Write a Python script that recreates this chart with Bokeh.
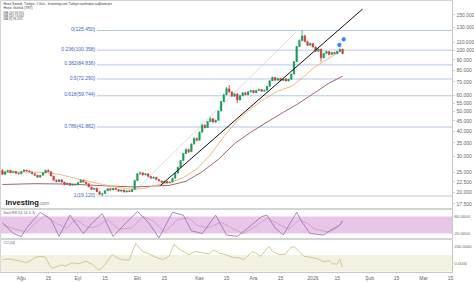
import numpy as np
from bokeh.plotting import figure
from bokeh.layouts import column
from bokeh.models import Range1d, FixedTicker, CustomJSTickFormatter, Label, BoxAnnotation, ColumnDataSource
from bokeh.core.properties import value
from bokeh.embed import file_html
from bokeh.resources import INLINE

FONT = "Liberation Sans"

# ---------------- data (daily candles, trading-day index) ----------------
opens = [25.6, 24.5, 25.2, 25.6, 25.0, 25.3, 24.8,
         24.6, 25.3, 25.7, 25.4, 25.1, 24.6, 24.2, 23.7, 24.2, 24.9, 25.6, 25.2, 24.0, 22.9, 22.5, 23.0, 22.4, 21.8, 22.1, 21.6, 21.9,
         21.7, 22.3, 22.9, 22.4, 22.0, 21.2, 20.6, 20.9, 20.1, 19.5, 19.7, 20.3, 20.8, 20.5, 20.9, 20.6, 20.2, 20.5, 20.0, 20.3, 20.1, 20.6,
         22.8, 24.6, 24.9, 24.3, 24.6, 23.9, 23.4, 23.7, 23.1, 22.7, 22.3, 22.6, 22.2, 22.4, 23.4, 24.8, 26.5, 28.6, 31.0, 32.4, 31.6, 34.5, 36.8,
         36.0, 39.5, 42.8, 41.6, 44.6, 46.0, 44.3, 45.2, 50.2, 56.0, 60.5, 64.8, 62.4, 59.5, 61.0, 57.0, 59.8, 61.8, 60.5, 62.5,
         63.4, 61.8, 63.5, 64.2, 62.9, 63.6, 66.5, 70.8, 73.5, 71.2, 72.8, 71.0, 72.4, 70.6, 72.0, 76.5, 88.0, 104.5, 112.0, 118.0, 110.5, 106.0,
         108.2, 104.0, 99.0, 101.5, 92.0, 96.5, 98.8, 95.5, 97.8, 96.4, 99.0, 101.5]
highs = [25.9, 25.4, 25.8, 25.8, 25.5, 25.4, 25.0,
         25.4, 25.9, 25.8, 25.6, 25.2, 24.8, 24.3, 24.3, 25.0, 25.8, 25.9, 25.3, 24.1, 23.1, 23.2, 23.1, 22.5, 22.3, 22.2, 22.0, 22.0,
         22.4, 23.1, 23.0, 22.5, 22.1, 21.3, 21.0, 21.0, 20.2, 19.8, 20.4, 20.9, 20.9, 21.0, 21.0, 20.7, 20.6, 20.6, 20.4, 20.4, 20.7, 23.0,
         24.8, 25.3, 25.0, 24.8, 24.7, 24.0, 23.9, 23.8, 23.2, 22.8, 22.7, 22.7, 22.5, 23.5, 24.9, 26.7, 28.8, 31.3, 33.0, 32.8, 34.8, 37.3, 37.2,
         39.8, 43.4, 43.2, 44.9, 46.8, 46.4, 45.6, 50.6, 56.5, 61.2, 66.0, 67.5, 63.0, 61.6, 61.4, 60.2, 62.2, 62.3, 62.9, 63.9,
         63.8, 64.0, 64.8, 64.5, 64.0, 66.9, 71.3, 74.3, 74.0, 73.3, 73.2, 72.9, 72.8, 72.5, 77.0, 88.6, 105.3, 113.5, 125.45, 119.5, 111.8, 109.5,
         108.9, 104.6, 102.4, 102.0, 97.2, 99.6, 99.3, 98.4, 98.3, 99.5, 102.3, 102.0]
lows = [24.3, 24.3, 25.0, 24.8, 24.9, 24.6, 24.4,
        24.5, 25.2, 25.2, 25.0, 24.5, 24.0, 23.5, 23.6, 24.1, 24.8, 25.0, 23.9, 22.8, 22.3, 22.4, 22.2, 21.6, 21.7, 21.4, 21.5, 21.5,
        21.6, 22.2, 22.3, 21.9, 21.1, 20.5, 20.5, 20.0, 19.4, 19.12, 19.6, 20.2, 20.3, 20.4, 20.5, 20.1, 20.1, 19.9, 19.9, 20.0, 20.0, 20.5,
        22.7, 24.4, 24.1, 24.2, 23.8, 23.3, 23.3, 23.0, 22.6, 22.2, 22.2, 22.1, 22.1, 22.3, 23.3, 24.7, 26.3, 28.4, 30.8, 31.2, 31.5, 34.3, 35.6,
        35.9, 39.3, 41.2, 41.5, 44.2, 43.8, 43.9, 45.0, 50.0, 55.5, 60.2, 61.8, 59.0, 59.2, 55.0, 56.6, 59.5, 60.1, 60.2, 62.0,
        61.5, 61.6, 63.0, 62.6, 62.5, 63.4, 66.2, 70.5, 70.8, 70.9, 70.6, 70.7, 70.2, 70.3, 71.8, 76.2, 87.6, 103.8, 111.0, 109.8, 105.2, 105.5,
        103.2, 98.2, 98.5, 88.0, 91.4, 95.8, 94.8, 95.0, 95.9, 96.0, 98.6, 95.8]
closes = [24.5, 25.2, 25.6, 25.0, 25.3, 24.8, 24.6,
          25.3, 25.7, 25.4, 25.1, 24.6, 24.2, 23.7, 24.2, 24.9, 25.6, 25.2, 24.0, 22.9, 22.5, 23.0, 22.4, 21.8, 22.1, 21.6, 21.9, 21.7,
          22.3, 22.9, 22.4, 22.0, 21.2, 20.6, 20.9, 20.1, 19.5, 19.7, 20.3, 20.8, 20.5, 20.9, 20.6, 20.2, 20.5, 20.0, 20.3, 20.1, 20.6, 22.8,
          24.6, 24.9, 24.3, 24.6, 23.9, 23.4, 23.7, 23.1, 22.7, 22.3, 22.6, 22.2, 22.4, 23.4, 24.8, 26.5, 28.6, 31.0, 32.4, 31.6, 34.5, 36.8, 36.0,
          39.5, 42.8, 41.6, 44.6, 46.0, 44.3, 45.2, 50.2, 56.0, 60.5, 64.8, 62.4, 59.5, 61.0, 57.0, 59.8, 61.8, 60.5, 62.5, 63.4,
          61.8, 63.5, 64.2, 62.9, 63.6, 66.5, 70.8, 73.5, 71.2, 72.8, 71.0, 72.4, 70.6, 72.0, 76.5, 88.0, 104.5, 112.0, 118.0, 110.5, 106.0, 108.2,
          104.0, 99.0, 101.5, 92.0, 96.5, 98.8, 95.5, 97.8, 96.4, 99.0, 101.5, 96.433]

# moving averages (index, value)
ma20_idx = [0, 7, 12, 17, 22, 27, 32, 37, 42, 47, 52, 57, 62, 67, 72, 77, 82, 87, 92, 97, 102, 107, 111, 115, 120, 125, 126]
ma20_val = [24.9, 25.1, 25.1, 24.9, 24.3, 23.4, 22.6, 21.8, 21.2, 20.7, 20.8, 21.6, 22.3, 23.6, 26.0, 30.5, 37.5, 45.0,
            51.5, 57.5, 63.0, 66.5, 73.0, 81.5, 90.0, 98.5, 99.95]
ma50_idx = [0, 12, 25, 37, 49, 62, 68, 74, 80, 86, 92, 99, 104, 109, 115, 121, 126]
ma50_val = [21.8, 22.0, 21.9, 21.5, 21.2, 21.6, 22.6, 25.2, 29.0, 34.7, 39.5, 45.1, 49.5, 54.0, 61.0, 69.0, 74.664]

# drawing tools
trend_x = [58.6, 133.4]
trend_y = [21.6, 160.0]
channel_x = [49.3, 108.6]
channel_y = [20.4, 122.7]
signal_x = [124.8, 126.4]
signal_y = [106.5, 113.5]

fib_levels = ["0", "0.236", "0.382", "0.5", "0.618", "0.786", "1"]
fib_values = [125.450, 100.358, 84.836, 72.290, 59.744, 41.882, 19.120]
fib_start = 35

price_ticks = [17.5, 20, 22.5, 25, 30, 35, 40, 45, 50, 55, 60, 70, 80, 90, 100, 110, 130, 150]

# Stoch RSI (index, value)
k_idx = [0, 4, 7, 9, 14, 18, 21, 25, 30, 33, 37, 41, 46, 50, 54, 58, 63, 67, 70, 74, 79, 83, 87, 91, 96, 98, 101, 104,
         109, 111, 114, 119, 122, 125, 126]
k_val = [60, 20, 10, 40, 95, 70, 10, 85, 20, 55, 90, 10, 60, 98, 60, 5, 95, 85, 30, 20, 85, 15, 10, 40, 80, 85, 40, 15,
         95, 60, 20, 15, 35, 50, 64.813]
d_idx = [0, 5, 9, 12, 16, 20, 24, 27, 32, 35, 39, 43, 48, 52, 56, 60, 65, 69, 72, 76, 81, 85, 89, 93, 98, 102, 106,
         110, 113, 116, 121, 124, 126]
d_val = [50, 35, 25, 55, 85, 55, 40, 70, 40, 45, 70, 35, 40, 80, 65, 25, 70, 75, 50, 40, 60, 40, 20, 40, 75, 55, 35,
         70, 55, 35, 25, 40, 61.705]

# CCI (index, value)
cci_idx = [0, 2.5, 4.9, 6.8, 8.6, 10.5, 12.3, 14.2, 16, 17.3, 18.5, 19.8, 21.6, 23.5, 25.9, 28.4, 30.9, 33.3, 35.8, 37,
           38.9, 40.7, 42.6, 44.4, 46.9, 49.4, 51.9, 54.3, 56.8, 59.3, 61.7, 63.6, 65.4, 69.1, 71.6, 74.1, 76.5, 78.4,
           80.2, 82.7, 85.2, 87.7, 89.5, 90.7, 92.6, 93.8, 95.7, 97.5, 98.8, 100, 102.5, 104.9, 106.8, 108, 109.9,
           111.7, 114.2, 116.7, 119.1, 121, 122.2, 124, 125, 126]
cci_val = [45, 53, 37, 26, 6, 33, 73, 84, 73, -14, -61, -45, -21, -33, 6, -6, 26, -14, -84, -53,
           26, 104, 65, 45, 37, 241, 143, 112, 73, 45, 84, 229, 174, 104, 143, 124, 112, 162,
           124, 104, 73, 65, 45, 84, 143, 124, 84, 162, 202, 143, 104, 112, 190, 202, 143,
           84, 73, 57, 18, 33, -6, -10, 50, -47.7664]

tick_idx = [7, 17, 28, 38, 50, 60, 73, 83, 93, 103, 115, 124, 136, 146, 156, 166]
tick_lab = ["Ağu", "15", "Eyl", "15", "Eki", "15", "Kas", "15", "Ara", "15", "2026", "15", "Şub", "15", "Mar", "15"]

# ---------------- figures ----------------
FW = 452
xr = Range1d(-0.7, -0.7 + FW / 2.7)


def style_axis(ax, size="5px", standoff=2, tick_out=2):
    ax.axis_line_color = "#c8c8c8"
    ax.major_tick_line_color = "#c8c8c8"
    ax.minor_tick_line_color = None
    ax.major_tick_in = 0
    ax.major_tick_out = tick_out
    ax.major_label_standoff = standoff
    ax.major_label_text_font_size = size
    ax.major_label_text_color = "#666666"
    ax.major_label_text_font = FONT


def base(h, yr, ytype="linear", xloc=None, size="5px", standoff=2, tick_out=2):
    p = figure(frame_width=FW, frame_height=h, x_range=xr, y_range=yr, y_axis_type=ytype,
               y_axis_location="right", x_axis_location=xloc, toolbar_location=None,
               output_backend="svg", min_border_left=0, min_border_right=22,
               min_border_top=0, min_border_bottom=0, background_fill_color="white")
    p.grid.visible = False
    p.outline_line_color = "#d4d4d4"
    style_axis(p.yaxis[0], size=size, standoff=standoff, tick_out=tick_out)
    return p


def tag(p, txt, yv, color, yoff=0, tcolor="white", size="5px"):
    p.add_layout(Label(x=FW + 1, x_units="screen", y=yv, y_units="data", text=txt,
                       text_font_size=size, text_font=FONT, text_color=tcolor,
                       text_baseline="middle", y_offset=yoff,
                       background_fill_color=color, padding=1))


def note(p, h, x, py, txt, size="3.4px", color="#333333", style="normal"):
    p.add_layout(Label(x=x, y=h - py, x_units="screen", y_units="screen", text=txt,
                       text_font_size=size, text_color=color, text_font=FONT,
                       text_baseline="middle", text_font_style=style))


# ---- main price panel (log scale, ~88 px per e-fold) ----
H1 = 209
p1 = base(H1, Range1d(176.4 * np.exp(-H1 / 88.0), 176.4), ytype="log")
p1.yaxis.ticker = FixedTicker(ticks=price_ticks)
p1.yaxis.formatter = CustomJSTickFormatter(code="return tick.toFixed(3);")

n = len(closes)
idx = np.arange(n)
o = np.array(opens); c = np.array(closes)
up = c >= o
src = ColumnDataSource(dict(x=idx, top=np.maximum(o, c), bot=np.minimum(o, c), hi=highs, lo=lows,
                            col=np.where(up, "#1e9b5c", "#d23c3c")))

# fib lines + labels
p1.segment(x0=[fib_start] * len(fib_values), y0=fib_values, x1=[xr.end] * len(fib_values), y1=fib_values,
           line_color="#b7c6e6", line_width=1)
p1.text(x=[fib_start - 0.6] * len(fib_values), y=fib_values,
        text=[f"{l}({v:.3f})" for l, v in zip(fib_levels, fib_values)],
        text_align="right", text_baseline="middle", text_font_size="5px",
        text_color="#3e64c8", text_font=value(FONT), y_offset=-1.5)

p1.line(channel_x, channel_y, line_color="#d2d2d2", line_width=0.8)
p1.line(ma50_idx, ma50_val, line_color="#a3646a", line_width=1)
p1.line(ma20_idx, ma20_val, line_color="#f2b77e", line_width=1)

p1.segment(x0="x", y0="hi", x1="x", y1="lo", color="col", line_width=0.8, source=src)
p1.vbar(x="x", top="top", bottom="bot", width=0.68, fill_color="col", line_color="col", line_width=0.3, source=src)

p1.line(trend_x, trend_y, line_color="#111111", line_width=1)
p1.scatter(signal_x, signal_y, size=5, fill_color="#3b82f6", line_color="white", line_width=0.8)

tag(p1, "99.950", 99.95, "#f2a52c", yoff=-3)
tag(p1, "96.433", 96.433, "#2f8f3a", yoff=-5)
tag(p1, "94.602", 94.602, "#3d6fdc", yoff=-8)
tag(p1, "74.664", 74.664, "#a3161a", yoff=0)

note(p1, H1, 3, 3, "Hisse Senedi, Türkiye, 1 Gün - Investing.com Türkiye tarafından sağlanmıştır", size="3.2px")
note(p1, H1, 3, 7, "Hisse, Günlük (TRY)", size="3.2px")
note(p1, H1, 3, 12, "MA (20) 99.950", size="3px", color="#555555")
note(p1, H1, 3, 15, "MA (50) 74.664", size="3px", color="#555555")
note(p1, H1, 3, 18, "MA (9) 96.433", size="3px", color="#555555")
note(p1, H1, 5, 202, "Investing", size="7.6px", color="#111111", style="bold")
note(p1, H1, 38.5, 203, ".com", size="4.6px", color="#777777")

# ---- Stoch RSI panel ----
H2 = 30
p2 = base(H2, Range1d(-1, 105), size="4.3px", standoff=1, tick_out=1)
p2.yaxis.ticker = FixedTicker(ticks=[20, 80])
p2.yaxis.formatter = CustomJSTickFormatter(code="return tick.toFixed(4);")
p2.add_layout(BoxAnnotation(bottom=20, top=80, fill_color="#e8c6e7", fill_alpha=1, line_color=None, level="underlay"))
p2.line(d_idx, d_val, line_color="#d79ac6", line_width=0.9)
p2.line(k_idx, k_val, line_color="#9a78b8", line_width=0.9)
tag(p2, "64.8130", 64.813, "#e3202c", yoff=-1, size="4.3px")
tag(p2, "61.7048", 61.7048, "#2222c8", yoff=-5, size="4.3px")
note(p2, H2, 3, 3, "Stoch RSI (14, 14, 3, 3)", size="3px", color="#555555")

# ---- CCI panel ----
H3 = 33
p3 = base(H3, Range1d(-112, 288), xloc="below", size="4.1px", standoff=1, tick_out=1)
p3.yaxis.ticker = FixedTicker(ticks=[0, 200])
p3.yaxis.formatter = CustomJSTickFormatter(code="return tick.toFixed(4);")
p3.add_layout(BoxAnnotation(bottom=-100, top=100, fill_color="#f3f1e2", fill_alpha=1, line_color=None, level="underlay"))
p3.line(cci_idx, cci_val, line_color="#cbc589", line_width=0.9)
tag(p3, "-47.7664", -47.7664, "#a19f2e", yoff=3.5, size="4.1px")
note(p3, H3, 3, 3, "CCI (14)", size="3px", color="#555555")

xa = p3.xaxis[0]
style_axis(xa, size="5px")
xa.major_tick_out = 1
xa.major_label_standoff = 1
xa.ticker = FixedTicker(ticks=tick_idx)
xa.major_label_overrides = {k: v for k, v in zip(tick_idx, tick_lab)}

layout = column(p1, p2, p3, spacing=0)
open("out.html", "w").write(file_html(layout, INLINE))
